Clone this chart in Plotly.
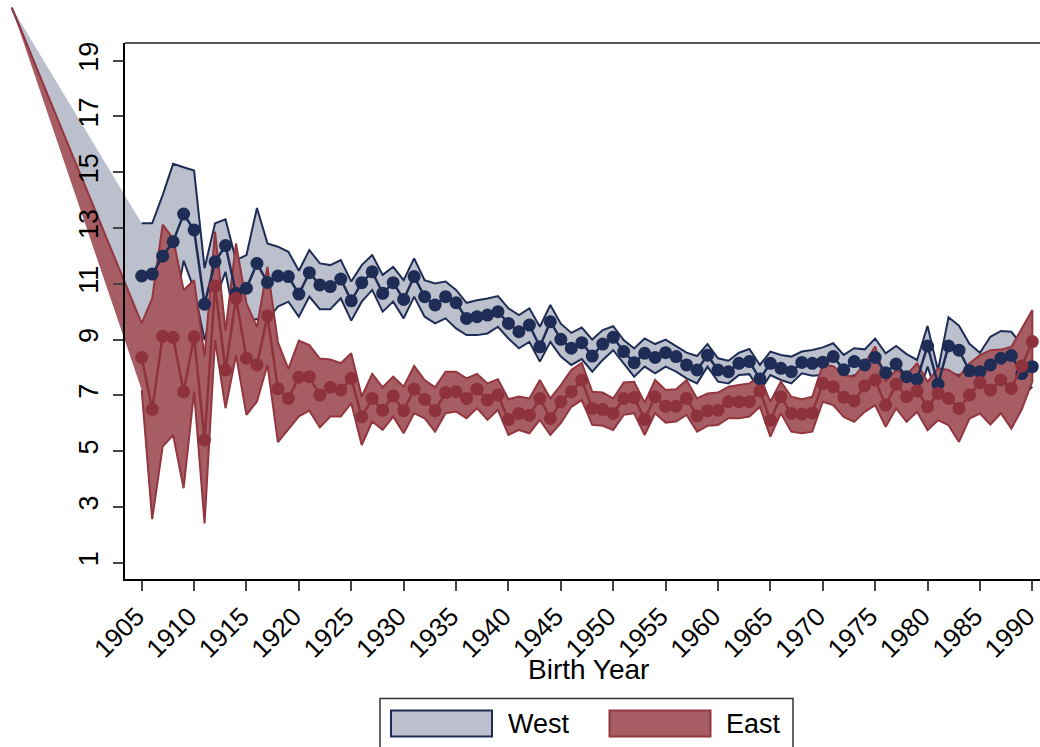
import plotly.graph_objects as go

# ---------------------------------------------------------------------------
# Data: estimate with lower/upper confidence bounds by birth year
# ---------------------------------------------------------------------------
years = list(range(1905, 1991))

west_est = [11.28, 11.35, 11.99, 12.51, 13.50, 12.93, 10.27, 11.79, 12.37, 10.66,
            10.84, 11.73, 11.05, 11.28, 11.26, 10.63, 11.40, 10.96, 10.90, 11.17,
            10.39, 11.04, 11.43, 10.66, 11.04, 10.44, 11.26, 10.54, 10.24, 10.54,
            10.32, 9.76, 9.82, 9.88, 10.00, 9.58, 9.28, 9.52, 8.74, 9.64,
            9.01, 8.69, 8.89, 8.41, 8.84, 9.08, 8.57, 8.17, 8.51, 8.36,
            8.53, 8.39, 8.09, 7.91, 8.44, 7.91, 7.85, 8.15, 8.21, 7.59,
            8.15, 7.97, 7.85, 8.18, 8.15, 8.19, 8.39, 7.92, 8.21, 8.09,
            8.36, 7.81, 8.12, 7.67, 7.57, 8.77, 7.40, 8.77, 8.62, 7.88,
            7.85, 8.09, 8.33, 8.43, 7.78, 8.03]
west_hi = [13.17, 13.17, 14.18, 15.30, 15.18, 15.06, 11.56, 13.17, 13.31, 11.85,
           12.03, 13.72, 12.45, 12.33, 12.15, 11.47, 12.21, 11.73, 11.67, 11.85,
           11.08, 11.67, 12.03, 11.32, 11.61, 11.13, 11.91, 11.13, 11.01, 11.08,
           10.78, 10.32, 10.41, 10.47, 10.56, 10.12, 9.88, 10.12, 9.46, 10.24,
           9.57, 9.24, 9.43, 9.00, 9.34, 9.48, 8.98, 8.68, 9.04, 8.84,
           9.00, 8.77, 8.53, 8.41, 8.84, 8.33, 8.24, 8.53, 8.66, 8.09,
           8.57, 8.45, 8.39, 8.57, 8.63, 8.72, 8.87, 8.45, 8.69, 8.65,
           9.04, 8.51, 8.77, 8.48, 8.27, 9.49, 7.90, 9.80, 9.50, 8.85,
           8.53, 9.10, 9.31, 9.28, 8.80, 8.50]
west_lo = [9.39, 9.53, 9.80, 9.72, 11.83, 10.80, 8.98, 10.41, 11.43, 9.47,
           9.65, 9.74, 9.70, 10.18, 10.36, 9.82, 10.54, 10.09, 10.09, 10.48,
           9.68, 10.36, 10.78, 10.00, 10.36, 9.76, 10.54, 9.82, 9.58, 9.76,
           9.40, 9.16, 9.16, 9.22, 9.46, 9.04, 8.69, 8.92, 8.21, 8.92,
           8.39, 8.09, 8.30, 7.85, 8.27, 8.62, 8.15, 7.67, 8.03, 7.79,
           8.03, 7.85, 7.61, 7.43, 8.03, 7.49, 7.43, 7.73, 7.76, 7.15,
           7.73, 7.55, 7.43, 7.79, 7.70, 7.73, 7.97, 7.55, 7.73, 7.53,
           7.68, 7.11, 7.47, 6.86, 6.87, 8.03, 6.90, 7.74, 7.74, 6.91,
           7.17, 7.08, 7.35, 7.58, 7.00, 7.30]

east_est = [8.36, 6.50, 9.12, 9.08, 7.13, 9.10, 5.40, 10.92, 7.91, 10.48,
            8.33, 8.09, 9.85, 7.24, 6.89, 7.65, 7.67, 7.01, 7.29, 7.19,
            7.61, 6.23, 6.89, 6.47, 6.98, 6.45, 7.22, 6.86, 6.45, 7.10,
            7.13, 6.89, 7.22, 6.83, 7.01, 6.13, 6.35, 6.29, 6.89, 6.17,
            6.77, 7.13, 7.55, 6.53, 6.49, 6.35, 6.89, 6.92, 6.14, 6.95,
            6.61, 6.61, 6.89, 6.26, 6.45, 6.47, 6.77, 6.77, 6.77, 7.16,
            6.11, 6.95, 6.35, 6.33, 6.37, 7.43, 7.31, 6.93, 6.80, 7.34,
            7.55, 6.65, 7.40, 6.95, 7.16, 6.59, 7.07, 6.89, 6.53, 7.01,
            7.46, 7.19, 7.55, 7.25, 8.05, 8.93]
east_hi = [9.58, 10.48, 13.12, 12.63, 10.78, 11.13, 8.40, 12.87, 9.30, 12.45,
           10.30, 9.45, 11.61, 8.90, 7.95, 8.96, 8.80, 8.32, 8.29, 8.15,
           8.51, 6.96, 7.77, 7.29, 7.67, 7.31, 8.06, 7.55, 7.29, 7.85,
           7.85, 7.61, 7.77, 7.43, 7.58, 6.86, 6.96, 6.89, 7.55, 6.89,
           7.37, 7.91, 8.17, 7.13, 7.10, 6.89, 7.46, 7.49, 6.74, 7.55,
           7.19, 7.22, 7.55, 6.89, 7.07, 7.10, 7.31, 7.37, 7.43, 7.67,
           6.77, 7.49, 6.95, 6.86, 6.95, 8.10, 8.05, 7.73, 7.67, 8.15,
           8.75, 7.49, 7.91, 7.73, 8.15, 7.49, 7.97, 7.91, 7.67, 8.14,
           8.44, 8.62, 8.64, 8.74, 9.40, 10.06]
east_lo = [7.19, 2.56, 5.16, 5.58, 3.67, 7.13, 2.41, 8.98, 6.54, 8.44,
           6.30, 6.78, 8.09, 5.32, 5.80, 6.25, 6.45, 5.85, 6.24, 6.24,
           6.72, 5.22, 6.06, 5.76, 6.24, 5.64, 6.36, 6.18, 5.70, 6.36,
           6.42, 6.18, 6.54, 6.12, 6.48, 5.58, 5.76, 5.64, 6.12, 5.58,
           6.00, 6.59, 6.83, 5.94, 5.91, 5.76, 6.30, 6.36, 5.58, 6.36,
           6.02, 6.06, 6.30, 5.70, 5.91, 5.94, 6.18, 6.18, 6.24, 6.59,
           5.52, 6.36, 5.70, 5.64, 5.70, 6.77, 6.65, 6.23, 6.05, 6.41,
           6.65, 5.87, 6.53, 6.05, 6.41, 5.75, 6.11, 5.93, 5.33, 6.17,
           6.35, 5.95, 6.36, 5.81, 6.50, 7.50]

# Leading point shared by both confidence bands (lies outside the axes frame)
lead_year = 1892.6
lead_value = 20.9

y_ticks = list(range(1, 20, 2))
x_ticks = list(range(1905, 1991, 5))

# ---------------------------------------------------------------------------
# Geometry of the canvas (pixels) and the matching data scales
# ---------------------------------------------------------------------------
W, H = 1040, 747
PX_1905, PX_PER_YEAR = 141.7, 10.478
PY_1, PX_PER_UNIT = 562.7, 27.89
FRAME_L, FRAME_T, FRAME_B = 125, 43, 579


def year_at(px):
    return 1905 + (px - PX_1905) / PX_PER_YEAR


def value_at(py):
    return 1 + (PY_1 - py) / PX_PER_UNIT


def fx(px):
    return px / W


def fy(py):
    return 1 - py / H


NAVY = "#1F2D56"
NAVY_FILL = "#BBC0CC"
RED = "#8E323C"
RED_EDGE = "#93363F"
RED_FILL = "#A65D63"
FONT = "Liberation Sans, Arial, sans-serif"

fig = go.Figure()

# West band (fill), then its outlines
fig.add_trace(go.Scatter(
    x=[lead_year] + years + years[::-1],
    y=[lead_value] + west_hi + west_lo[::-1],
    fill="toself", fillcolor=NAVY_FILL, mode="lines", line=dict(width=0),
    hoverinfo="skip", showlegend=False))
fig.add_trace(go.Scatter(x=years, y=west_hi, mode="lines",
                         line=dict(color=NAVY, width=2), hoverinfo="skip",
                         showlegend=False))
fig.add_trace(go.Scatter(x=[lead_year] + years, y=[lead_value] + west_lo,
                         mode="lines", line=dict(color=NAVY, width=2),
                         hoverinfo="skip", showlegend=False))

# East band (fill with outline)
fig.add_trace(go.Scatter(
    x=[lead_year] + years + years[::-1],
    y=[lead_value] + east_hi + east_lo[::-1],
    fill="toself", fillcolor=RED_FILL, mode="lines",
    line=dict(color=RED_EDGE, width=2),
    hoverinfo="skip", showlegend=False))

# Connected point estimates
fig.add_trace(go.Scatter(x=years, y=west_est, mode="lines+markers",
                         line=dict(color=NAVY, width=2.5),
                         marker=dict(color=NAVY, size=13),
                         name="West", showlegend=False))
fig.add_trace(go.Scatter(x=years, y=east_est, mode="lines+markers",
                         line=dict(color=RED, width=2.5),
                         marker=dict(color=RED, size=13),
                         name="East", showlegend=False))

# Empty trace that carries the visible (tick-bearing) axes
fig.add_trace(go.Scatter(x=[], y=[], xaxis="x2", yaxis="y2",
                         hoverinfo="skip", showlegend=False))

x_tick_font = dict(family=FONT, size=26, color="black")
y_tick_font = dict(family=FONT, size=27, color="black")

fig.update_layout(
    template="none",
    width=W, height=H, autosize=False,
    margin=dict(l=0, r=0, t=0, b=0, pad=0),
    paper_bgcolor="white",
    plot_bgcolor="rgba(0,0,0,0)",
    showlegend=False,
    font=dict(family=FONT, color="black"),
    # full-canvas axes that carry the data
    xaxis=dict(domain=[0, 1], range=[year_at(0), year_at(W)], visible=False,
               automargin=False),
    yaxis=dict(domain=[0, 1], range=[value_at(H), value_at(0)], visible=False,
               automargin=False),
    # framed axes with ticks and labels
    xaxis2=dict(domain=[fx(FRAME_L), 1], anchor="y2", automargin=False,
                range=[year_at(FRAME_L), year_at(W)],
                tickmode="array", tickvals=x_ticks,
                ticks="outside", ticklen=10, tickwidth=1.5, tickcolor="#444",
                tickangle=-45, tickfont=x_tick_font, ticklabeloverflow="allow",
                ticklabelshift=-5,
                showline=True, linecolor="black", linewidth=2,
                showgrid=False, zeroline=False),
    yaxis2=dict(domain=[fy(FRAME_B), fy(FRAME_T)], anchor="x2",
                automargin=False,
                range=[value_at(FRAME_B), value_at(FRAME_T)],
                tickmode="array", tickvals=y_ticks,
                ticks="outside", ticklen=10, tickwidth=1.5, tickcolor="#444",
                tickangle=-90, tickfont=y_tick_font, ticklabelstandoff=4,
                ticklabeloverflow="allow",
                showline=True, linecolor="black", linewidth=2,
                showgrid=False, zeroline=False),
)

# Upper frame edge
fig.add_shape(type="line", xref="paper", yref="paper",
              x0=fx(FRAME_L), x1=1, y0=fy(FRAME_T), y1=fy(FRAME_T),
              line=dict(color="#555555", width=2))

# Axis title
fig.add_annotation(text="Birth Year", xref="paper", yref="paper",
                   x=fx(588), y=fy(669), xanchor="center", yanchor="middle",
                   showarrow=False, font=dict(family=FONT, size=28,
                                              color="black"))

# Legend box with wide keys
fig.add_shape(type="rect", xref="paper", yref="paper",
              x0=fx(380), x1=fx(793), y0=fy(760), y1=fy(698.5),
              line=dict(color="#333333", width=1.5), fillcolor="white")
fig.add_shape(type="rect", xref="paper", yref="paper",
              x0=fx(391), x1=fx(492), y0=fy(736.5), y1=fy(710.5),
              line=dict(color=NAVY, width=2), fillcolor=NAVY_FILL)
fig.add_shape(type="rect", xref="paper", yref="paper",
              x0=fx(609.5), x1=fx(710.5), y0=fy(736.5), y1=fy(710.5),
              line=dict(color=RED_EDGE, width=2), fillcolor=RED_FILL)
fig.add_annotation(text="West", xref="paper", yref="paper",
                   x=fx(506), y=fy(724), xanchor="left", yanchor="middle",
                   showarrow=False, font=dict(family=FONT, size=27,
                                              color="black"))
fig.add_annotation(text="East", xref="paper", yref="paper",
                   x=fx(724), y=fy(724), xanchor="left", yanchor="middle",
                   showarrow=False, font=dict(family=FONT, size=27,
                                              color="black"))

fig.write_html("out.html")
